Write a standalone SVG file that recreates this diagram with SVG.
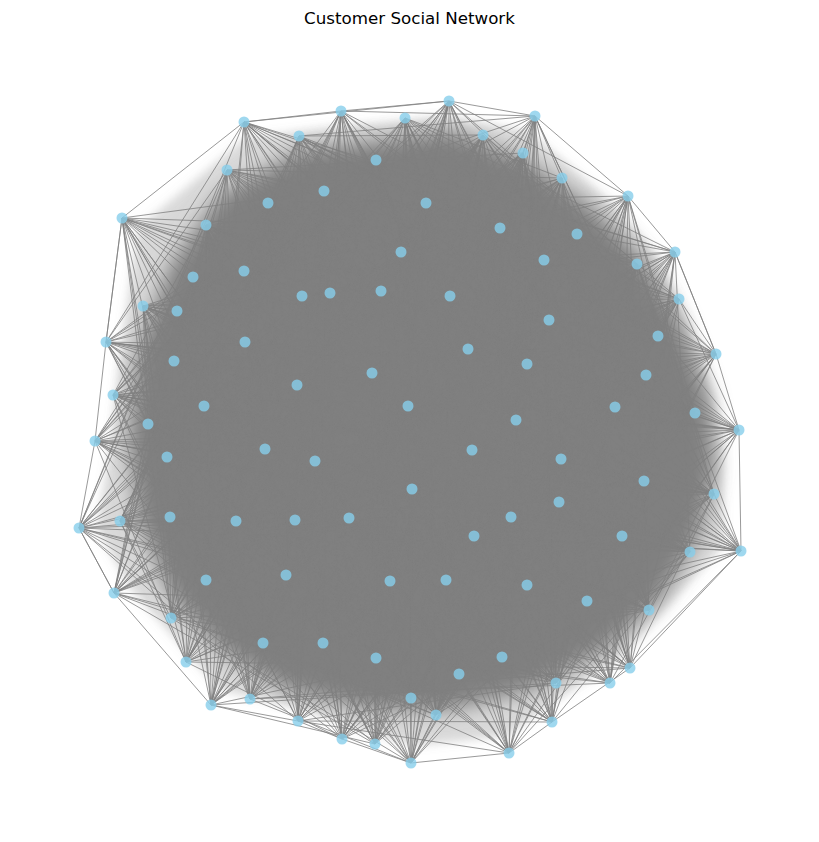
<svg xmlns="http://www.w3.org/2000/svg" width="819" height="842" viewBox="0 0 819 842">
<defs>
<filter id="soft" x="-15%" y="-15%" width="130%" height="130%"><feGaussianBlur stdDeviation="10"/></filter>
<filter id="soft2" x="-15%" y="-15%" width="130%" height="130%"><feGaussianBlur stdDeviation="5"/></filter>
</defs>
<style>
.e{fill:none;stroke:#808080;stroke-opacity:.8;stroke-width:1;stroke-linejoin:round}
.core{fill:#808080;stroke:none}
.haze{fill:#808080;fill-opacity:.3;stroke:none}
.n circle{fill:#87CEEB;fill-opacity:.8;stroke:none}
.t{font-family:"DejaVu Sans","Liberation Sans",sans-serif;font-size:16.7px;fill:#000}
</style>
<rect width="819" height="842" fill="#fff"/>
<text class="t" x="409.5" y="24" text-anchor="middle">Customer Social Network</text>
<g id="connectors">
<polygon class="haze" filter="url(#soft2)" points="138,228 245,138 341,126 449,117 530,132 618,208 662,262 702,358 722,434 724,545 622,656 548,706 507,736 411,746 344,724 300,708 220,690 130,588 97,528 111,441 121,346"/>
<polygon class="core" filter="url(#soft)" points="220,195 300,150 380,140 450,130 525,160 590,205 640,255 680,320 710,400 715,470 700,535 660,600 605,650 530,690 450,710 370,710 285,690 220,650 170,595 138,520 128,440 138,350 170,265"/>
<path class="e" d="M122 218L244 122L341 111L449 101L535 116L628 196L675 252L716 354L739 430L741 551L630 668L552 722L509 753L411 763L342 739L298 721L211 705L114 593L79 528L95 441L106 342Z"/>
<path class="e" d="M244 122L297 385L286 575L341 111L468 349L376 658L381 291L658 336L630 668L106 342L690 552L244 271L120 521L390 581L426 203L412 489L411 763L675 252L644 481L268 203L95 441L186 662L483 135L408 406L411 698L562 178L615 407L552 722L113 395L206 580L302 296L295 520L323 643L330 293L474 536L649 610L549 320L622 536L193 277L79 528L298 721L324 191L315 461L375 744L544 260L561 459L227 170L148 424L263 643L449 101L372 373L459 674L535 116L646 375L610 683L174 361L114 593L177 311L236 521L527 585L401 252L511 517L587 601L679 299L559 502L206 225L167 457L250 699L376 160L472 450L342 739L577 234L739 430L299 136L204 406L171 618L405 118L527 364L502 657L450 296L716 354L556 683L245 342L741 551L143 306L170 517L446 580L500 228L349 518L509 753L637 264L714 494L122 218L265 449L211 705L523 153L516 420L436 715L628 196L695 413Z"/>
<path class="e" d="M244 122L79 528L502 657L675 252L114 593L523 153L474 536L299 136L120 521L459 674L637 264L206 580L376 160L658 336L227 170L170 517L411 698L679 299L286 575L324 191L716 354L268 203L236 521L436 715L549 320L171 618L426 203L646 375L122 218L295 520L342 739L106 342L263 643L500 228L615 407L206 225L468 349L375 744L245 342L186 662L401 252L695 413L193 277L527 364L411 763L174 361L211 705L330 293L739 430L244 271L372 373L509 753L113 395L250 699L381 291L561 459L143 306L408 406L587 601L297 385L298 721L450 296L644 481L177 311L516 420L649 610L204 406L390 581L535 116L714 494L302 296L472 450L630 668L148 424L446 580L562 178L559 502L341 111L315 461L556 683L95 441L527 585L628 196L622 536L405 118L412 489L610 683L265 449L323 643L577 234L690 552L449 101L349 518L552 722L167 457L376 658L544 260L741 551L483 135L511 517Z"/>
<path class="e" d="M244 122L450 296L236 521L622 536L411 763L523 153L204 406L646 375L323 643L244 271L637 264L472 450L263 643L552 722L381 291L170 517L559 502L375 744L483 135L297 385L716 354L527 585L193 277L675 252L516 420L171 618L610 683L330 293L120 521L714 494L342 739L449 101L113 395L658 336L446 580L206 225L544 260L408 406L286 575L556 683L401 252L79 528L644 481L436 715L405 118L174 361L474 536L390 581L122 218L577 234L372 373L206 580L630 668L500 228L167 457L561 459L411 698L341 111L245 342L511 517L298 721L268 203L628 196L527 364L114 593L649 610L426 203L265 449L739 430L459 674L302 296L106 342L349 518L250 699L227 170L562 178L468 349L741 551L587 601L324 191L95 441L695 413L502 657L177 311L549 320L412 489L211 705L299 136L535 116L295 520L690 552L509 753L376 160L148 424L615 407L376 658L143 306L679 299L315 461L186 662Z"/>
<path class="e" d="M244 122L675 252L474 536L459 674L376 160L170 517L286 575L268 203L549 320L646 375L342 739L500 228L468 349L186 662L193 277L174 361L739 430L509 753L381 291L408 406L298 721L177 311L204 406L714 494L630 668L562 178L315 461L527 585L405 118L265 449L690 552L552 722L544 260L511 517L502 657L523 153L120 521L206 580L227 170L679 299L716 354L436 715L426 203L295 520L263 643L206 225L245 342L695 413L411 763L330 293L372 373L250 699L143 306L297 385L644 481L649 610L535 116L472 450L446 580L341 111L95 441L622 536L610 683L577 234L349 518L376 658L483 135L79 528L114 593L299 136L637 264L658 336L411 698L324 191L236 521L171 618L122 218L106 342L615 407L375 744L401 252L527 364L211 705L244 271L113 395L561 459L587 601L450 296L516 420L390 581L302 296L148 424L559 502L556 683L628 196L412 489L323 643L449 101L167 457L741 551Z"/>
<path class="e" d="M244 122L324 191L245 342L408 406L559 502L376 658L227 170L500 228L113 395L472 450L690 552L459 674L122 218L330 293L204 406L412 489L114 593L436 715L193 277L450 296L95 441L511 517L286 575L375 744L143 306L562 178L167 457L658 336L263 643L509 753L302 296L577 234L120 521L646 375L211 705L649 610L405 118L675 252L236 521L695 413L298 721L556 683L483 135L679 299L468 349L561 459L446 580L552 722L376 160L106 342L372 373L714 494L323 643L299 136L426 203L174 361L516 420L622 536L502 657L268 203L401 252L297 385L315 461L741 551L411 698L206 225L381 291L148 424L349 518L206 580L342 739L244 271L535 116L265 449L474 536L171 618L411 763L177 311L628 196L79 528L716 354L186 662L587 601L341 111L544 260L170 517L615 407L250 699L630 668L449 101L637 264L295 520L739 430L390 581L610 683L523 153L549 320L527 364L644 481L527 585Z"/>
<path class="e" d="M244 122L679 299L615 407L509 753L535 116L412 489L502 657L324 191L468 349L250 699L302 296L265 449L114 593L268 203L245 342L561 459L630 668L577 234L474 536L436 715L401 252L408 406L446 580L449 101L120 521L171 618L193 277L297 385L559 502L552 722L637 264L646 375L411 763L450 296L315 461L376 658L376 160L295 520L211 705L177 311L95 441L741 551L227 170L106 342L739 430L649 610L628 196L511 517L411 698L500 228L372 373L390 581L405 118L79 528L286 575L206 225L113 395L714 494L610 683L675 252L716 354L375 744L381 291L472 450L323 643L523 153L236 521L186 662L143 306L148 424L690 552L299 136L549 320L695 413L587 601L562 178L349 518L459 674L426 203L527 364L298 721L341 111L167 457L206 580L122 218L174 361L644 481L556 683L544 260L658 336L342 739L330 293L516 420L527 585L483 135L170 517L263 643L244 271L204 406L622 536Z"/>
<path class="e" d="M244 122L295 520L587 601L265 449L411 698L174 361L446 580L675 252L263 643L450 296L690 552L324 191L739 430L341 111L474 536L206 225L516 420L552 722L236 521L509 753L95 441L459 674L245 342L390 581L544 260L171 618L381 291L622 536L376 160L695 413L302 296L511 517L122 218L408 406L610 683L170 517L411 763L148 424L502 657L106 342L298 721L577 234L286 575L330 293L559 502L523 153L615 407L177 311L349 518L268 203L372 373L556 683L120 521L375 744L204 406L376 658L549 320L250 699L628 196L206 580L401 252L714 494L483 135L646 375L143 306L412 489L227 170L527 364L630 668L79 528L342 739L297 385L323 643L679 299L211 705L562 178L114 593L500 228L644 481L449 101L716 354L244 271L315 461L299 136L468 349L649 610L167 457L436 715L113 395L527 585L637 264L186 662L535 116L741 551L426 203L561 459L405 118L658 336L193 277L472 450Z"/>
<path class="e" d="M244 122L449 101L628 196L148 424L516 420L561 459L211 705L375 744L122 218L324 191L637 264L79 528L349 518L622 536L446 580L649 610L143 306L330 293L245 342L295 520L716 354L206 580L502 657L552 722L405 118L562 178L204 406L408 406L739 430L186 662L342 739L268 203L376 160L675 252L167 457L412 489L559 502L390 581L587 601L244 271L401 252L106 342L236 521L658 336L114 593L376 658L610 683L341 111L535 116L297 385L372 373L695 413L263 643L436 715L227 170L523 153L544 260L265 449L315 461L714 494L298 721L509 753L193 277L500 228L549 320L170 517L474 536L741 551L323 643L556 683L302 296L450 296L113 395L527 364L615 407L171 618L411 698L299 136L483 135L577 234L95 441L472 450L644 481L250 699L411 763L206 225L426 203L679 299L120 521L511 517L690 552L527 585L630 668L177 311L381 291L174 361L468 349L646 375L286 575L459 674Z"/>
<path class="e" d="M244 122L265 449L446 580L450 296L739 430L206 225L236 521L459 674L544 260L622 536L302 296L408 406L411 763L106 342L286 575L523 153L349 518L556 683L204 406L250 699L401 252L646 375L227 170L79 528L323 643L562 178L644 481L244 271L468 349L436 715L637 264L741 551L405 118L472 450L587 601L174 361L263 643L324 191L474 536L552 722L95 441L390 581L381 291L695 413L122 218L170 517L502 657L577 234L559 502L177 311L372 373L375 744L549 320L206 580L483 135L412 489L630 668L297 385L211 705L500 228L716 354L299 136L167 457L527 585L535 116L561 459L193 277L295 520L411 698L675 252L690 552L341 111L516 420L509 753L245 342L171 618L376 160L511 517L610 683L148 424L298 721L330 293L615 407L268 203L120 521L376 658L628 196L714 494L143 306L527 364L342 739L679 299L114 593L449 101L315 461L649 610L113 395L186 662L426 203L658 336Z"/>
<path class="e" d="M244 122L500 228L204 406L511 517L263 643L649 610L483 135L106 342L516 420L741 551L342 739L177 311L544 260L295 520L644 481L376 658L122 218L450 296L167 457L646 375L298 721L552 722L426 203L297 385L349 518L171 618L587 601L449 101L549 320L408 406L690 552L436 715L143 306L577 234L236 521L561 459L323 643L268 203L381 291L265 449L716 354L250 699L610 683L324 191L113 395L412 489L286 575L509 753L405 118L679 299L372 373L622 536L411 698L244 271L628 196L170 517L739 430L527 585L227 170L330 293L95 441L658 336L211 705L556 683L376 160L174 361L315 461L206 580L411 763L341 111L637 264L527 364L559 502L459 674L193 277L562 178L120 521L695 413L446 580L299 136L401 252L148 424L474 536L186 662L630 668L523 153L245 342L472 450L114 593L375 744L302 296L675 252L468 349L714 494L502 657L206 225L535 116L79 528L615 407L390 581Z"/>
<path class="e" d="M244 122L577 234L315 461L390 581L143 306L174 361L615 407L436 715L376 160L79 528L690 552L556 683L535 116L408 406L211 705L206 225L549 320L658 336L502 657L449 101L95 441L714 494L587 601L330 293L468 349L171 618L227 170L675 252L349 518L527 585L302 296L297 385L739 430L375 744L426 203L170 517L114 593L552 722L628 196L472 450L298 721L244 271L245 342L646 375L411 698L523 153L167 457L622 536L630 668L450 296L372 373L186 662L122 218L679 299L474 536L376 658L405 118L148 424L644 481L509 753L401 252L295 520L286 575L299 136L544 260L412 489L446 580L177 311L113 395L695 413L342 739L324 191L120 521L741 551L610 683L562 178L516 420L250 699L193 277L106 342L716 354L459 674L483 135L265 449L559 502L649 610L381 291L527 364L263 643L268 203L637 264L511 517L323 643L341 111L204 406L561 459L411 763L500 228L236 521L206 580Z"/>
<path class="e" d="M244 122L106 342L644 481L552 722L549 320L561 459L610 683L679 299L739 430L556 683L637 264L695 413L630 668L675 252L615 407L649 610L544 260L646 375L587 601L577 234L716 354L509 753L628 196L658 336L411 763L562 178L474 536L375 744L535 116L511 517L342 739L450 296L349 518L436 715L381 291L412 489L411 698L330 293L315 461L459 674L401 252L472 450L502 657L500 228L516 420L376 658L426 203L408 406L323 643L324 191L372 373L527 585L376 160L527 364L446 580L523 153L468 349L390 581L483 135L295 520L298 721L449 101L236 521L250 699L405 118L170 517L211 705L341 111L120 521L186 662L302 296L79 528L263 643L177 311L167 457L171 618L143 306L265 449L286 575L244 271L95 441L206 580L193 277L148 424L114 593L206 225L204 406L741 551L122 218L297 385L690 552L268 203L113 395L622 536L227 170L174 361L559 502L299 136L245 342L714 494Z"/>
</g>
<g class="n">
<g id="n0"><circle cx="244" cy="122" r="5.5"/></g>
<g id="n1"><circle cx="299" cy="136" r="5.5"/></g>
<g id="n2"><circle cx="227" cy="170" r="5.5"/></g>
<g id="n3"><circle cx="268" cy="203" r="5.5"/></g>
<g id="n4"><circle cx="122" cy="218" r="5.5"/></g>
<g id="n5"><circle cx="206" cy="225" r="5.5"/></g>
<g id="n6"><circle cx="193" cy="277" r="5.5"/></g>
<g id="n7"><circle cx="244" cy="271" r="5.5"/></g>
<g id="n8"><circle cx="143" cy="306" r="5.5"/></g>
<g id="n9"><circle cx="177" cy="311" r="5.5"/></g>
<g id="n10"><circle cx="302" cy="296" r="5.5"/></g>
<g id="n11"><circle cx="341" cy="111" r="5.5"/></g>
<g id="n12"><circle cx="405" cy="118" r="5.5"/></g>
<g id="n13"><circle cx="449" cy="101" r="5.5"/></g>
<g id="n14"><circle cx="483" cy="135" r="5.5"/></g>
<g id="n15"><circle cx="523" cy="153" r="5.5"/></g>
<g id="n16"><circle cx="376" cy="160" r="5.5"/></g>
<g id="n17"><circle cx="324" cy="191" r="5.5"/></g>
<g id="n18"><circle cx="426" cy="203" r="5.5"/></g>
<g id="n19"><circle cx="500" cy="228" r="5.5"/></g>
<g id="n20"><circle cx="401" cy="252" r="5.5"/></g>
<g id="n21"><circle cx="330" cy="293" r="5.5"/></g>
<g id="n22"><circle cx="381" cy="291" r="5.5"/></g>
<g id="n23"><circle cx="450" cy="296" r="5.5"/></g>
<g id="n24"><circle cx="535" cy="116" r="5.5"/></g>
<g id="n25"><circle cx="562" cy="178" r="5.5"/></g>
<g id="n26"><circle cx="628" cy="196" r="5.5"/></g>
<g id="n27"><circle cx="577" cy="234" r="5.5"/></g>
<g id="n28"><circle cx="544" cy="260" r="5.5"/></g>
<g id="n29"><circle cx="675" cy="252" r="5.5"/></g>
<g id="n30"><circle cx="637" cy="264" r="5.5"/></g>
<g id="n31"><circle cx="679" cy="299" r="5.5"/></g>
<g id="n32"><circle cx="549" cy="320" r="5.5"/></g>
<g id="n33"><circle cx="106" cy="342" r="5.5"/></g>
<g id="n34"><circle cx="245" cy="342" r="5.5"/></g>
<g id="n35"><circle cx="174" cy="361" r="5.5"/></g>
<g id="n36"><circle cx="113" cy="395" r="5.5"/></g>
<g id="n37"><circle cx="297" cy="385" r="5.5"/></g>
<g id="n38"><circle cx="204" cy="406" r="5.5"/></g>
<g id="n39"><circle cx="148" cy="424" r="5.5"/></g>
<g id="n40"><circle cx="95" cy="441" r="5.5"/></g>
<g id="n41"><circle cx="265" cy="449" r="5.5"/></g>
<g id="n42"><circle cx="167" cy="457" r="5.5"/></g>
<g id="n43"><circle cx="79" cy="528" r="5.5"/></g>
<g id="n44"><circle cx="120" cy="521" r="5.5"/></g>
<g id="n45"><circle cx="170" cy="517" r="5.5"/></g>
<g id="n46"><circle cx="236" cy="521" r="5.5"/></g>
<g id="n47"><circle cx="295" cy="520" r="5.5"/></g>
<g id="n48"><circle cx="468" cy="349" r="5.5"/></g>
<g id="n49"><circle cx="527" cy="364" r="5.5"/></g>
<g id="n50"><circle cx="372" cy="373" r="5.5"/></g>
<g id="n51"><circle cx="408" cy="406" r="5.5"/></g>
<g id="n52"><circle cx="516" cy="420" r="5.5"/></g>
<g id="n53"><circle cx="472" cy="450" r="5.5"/></g>
<g id="n54"><circle cx="315" cy="461" r="5.5"/></g>
<g id="n55"><circle cx="412" cy="489" r="5.5"/></g>
<g id="n56"><circle cx="349" cy="518" r="5.5"/></g>
<g id="n57"><circle cx="511" cy="517" r="5.5"/></g>
<g id="n58"><circle cx="474" cy="536" r="5.5"/></g>
<g id="n59"><circle cx="658" cy="336" r="5.5"/></g>
<g id="n60"><circle cx="716" cy="354" r="5.5"/></g>
<g id="n61"><circle cx="646" cy="375" r="5.5"/></g>
<g id="n62"><circle cx="615" cy="407" r="5.5"/></g>
<g id="n63"><circle cx="695" cy="413" r="5.5"/></g>
<g id="n64"><circle cx="739" cy="430" r="5.5"/></g>
<g id="n65"><circle cx="561" cy="459" r="5.5"/></g>
<g id="n66"><circle cx="644" cy="481" r="5.5"/></g>
<g id="n67"><circle cx="714" cy="494" r="5.5"/></g>
<g id="n68"><circle cx="559" cy="502" r="5.5"/></g>
<g id="n69"><circle cx="622" cy="536" r="5.5"/></g>
<g id="n70"><circle cx="690" cy="552" r="5.5"/></g>
<g id="n71"><circle cx="741" cy="551" r="5.5"/></g>
<g id="n72"><circle cx="114" cy="593" r="5.5"/></g>
<g id="n73"><circle cx="206" cy="580" r="5.5"/></g>
<g id="n74"><circle cx="286" cy="575" r="5.5"/></g>
<g id="n75"><circle cx="171" cy="618" r="5.5"/></g>
<g id="n76"><circle cx="263" cy="643" r="5.5"/></g>
<g id="n77"><circle cx="186" cy="662" r="5.5"/></g>
<g id="n78"><circle cx="211" cy="705" r="5.5"/></g>
<g id="n79"><circle cx="250" cy="699" r="5.5"/></g>
<g id="n80"><circle cx="298" cy="721" r="5.5"/></g>
<g id="n81"><circle cx="390" cy="581" r="5.5"/></g>
<g id="n82"><circle cx="446" cy="580" r="5.5"/></g>
<g id="n83"><circle cx="527" cy="585" r="5.5"/></g>
<g id="n84"><circle cx="323" cy="643" r="5.5"/></g>
<g id="n85"><circle cx="376" cy="658" r="5.5"/></g>
<g id="n86"><circle cx="502" cy="657" r="5.5"/></g>
<g id="n87"><circle cx="459" cy="674" r="5.5"/></g>
<g id="n88"><circle cx="411" cy="698" r="5.5"/></g>
<g id="n89"><circle cx="436" cy="715" r="5.5"/></g>
<g id="n90"><circle cx="342" cy="739" r="5.5"/></g>
<g id="n91"><circle cx="375" cy="744" r="5.5"/></g>
<g id="n92"><circle cx="411" cy="763" r="5.5"/></g>
<g id="n93"><circle cx="509" cy="753" r="5.5"/></g>
<g id="n94"><circle cx="587" cy="601" r="5.5"/></g>
<g id="n95"><circle cx="649" cy="610" r="5.5"/></g>
<g id="n96"><circle cx="630" cy="668" r="5.5"/></g>
<g id="n97"><circle cx="556" cy="683" r="5.5"/></g>
<g id="n98"><circle cx="610" cy="683" r="5.5"/></g>
<g id="n99"><circle cx="552" cy="722" r="5.5"/></g>
</g>
</svg>
